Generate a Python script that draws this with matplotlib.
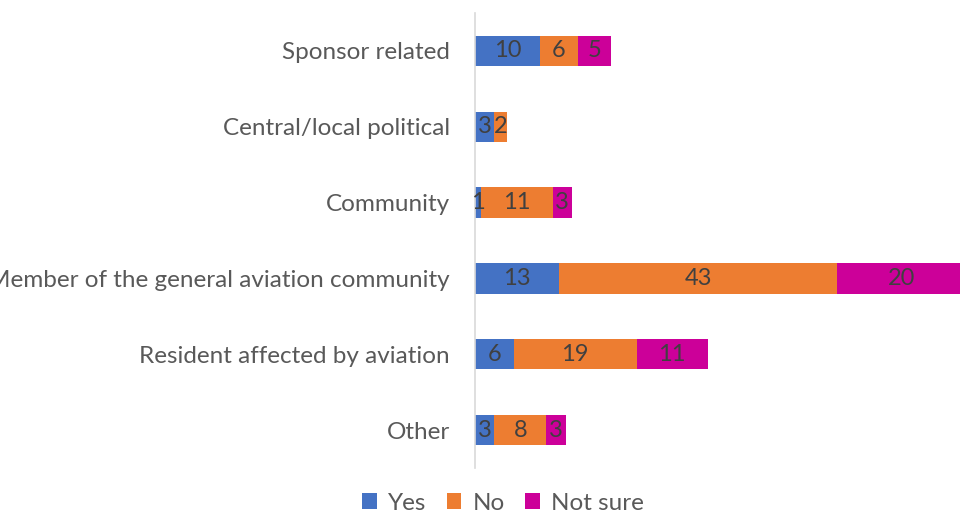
import matplotlib.pyplot as plt
import numpy as np

plt.rcParams['font.family'] = ['Lato', 'DejaVu Sans']

categories = ["Sponsor related", "Central/local political", "Community",
              "Member of the general aviation community",
              "Resident affected by aviation", "Other"]
yes = [10, 3, 1, 13, 6, 3]
no = [6, 2, 11, 43, 19, 8]
not_sure = [5, 0, 3, 20, 11, 3]

series = [("Yes", yes, "#4472C4"), ("No", no, "#ED7D31"), ("Not sure", not_sure, "#CC0099")]

fig = plt.figure(figsize=(9.6, 5.14), dpi=100)
ax = fig.add_axes([0.4948, 0.0895, 0.5052, 0.8852])

y = np.arange(len(categories))
left = np.zeros(len(categories))
for name, vals, col in series:
    vals = np.array(vals, dtype=float)
    ax.barh(y, vals, left=left, height=0.4, color=col, label=name)
    for yi, l, v in zip(y, left, vals):
        if v > 0:
            ax.text(l + v / 2, yi, f"{int(v)}", ha="center", va="center",
                    fontsize=17, color="#404040")
    left += vals

ax.set_xlim(0, 75)
ax.set_ylim(len(categories) - 0.5, -0.5)
ax.set_yticks(y)
ax.set_yticklabels(categories, fontsize=17.5, color="#595959")
ax.tick_params(axis="y", length=0, pad=18)
ax.set_xticks([])
for s in ["top", "right", "bottom"]:
    ax.spines[s].set_visible(False)
ax.spines["left"].set_color("#d9d9d9")
ax.spines["left"].set_linewidth(1.2)

fig.legend(loc="lower center", bbox_to_anchor=(0.524, -0.042), ncol=3, frameon=False,
           fontsize=17.5, handlelength=0.6, handleheight=0.6, handletextpad=0.45,
           columnspacing=0.85, labelcolor="#595959")

fig.savefig("out.png", dpi=100)
